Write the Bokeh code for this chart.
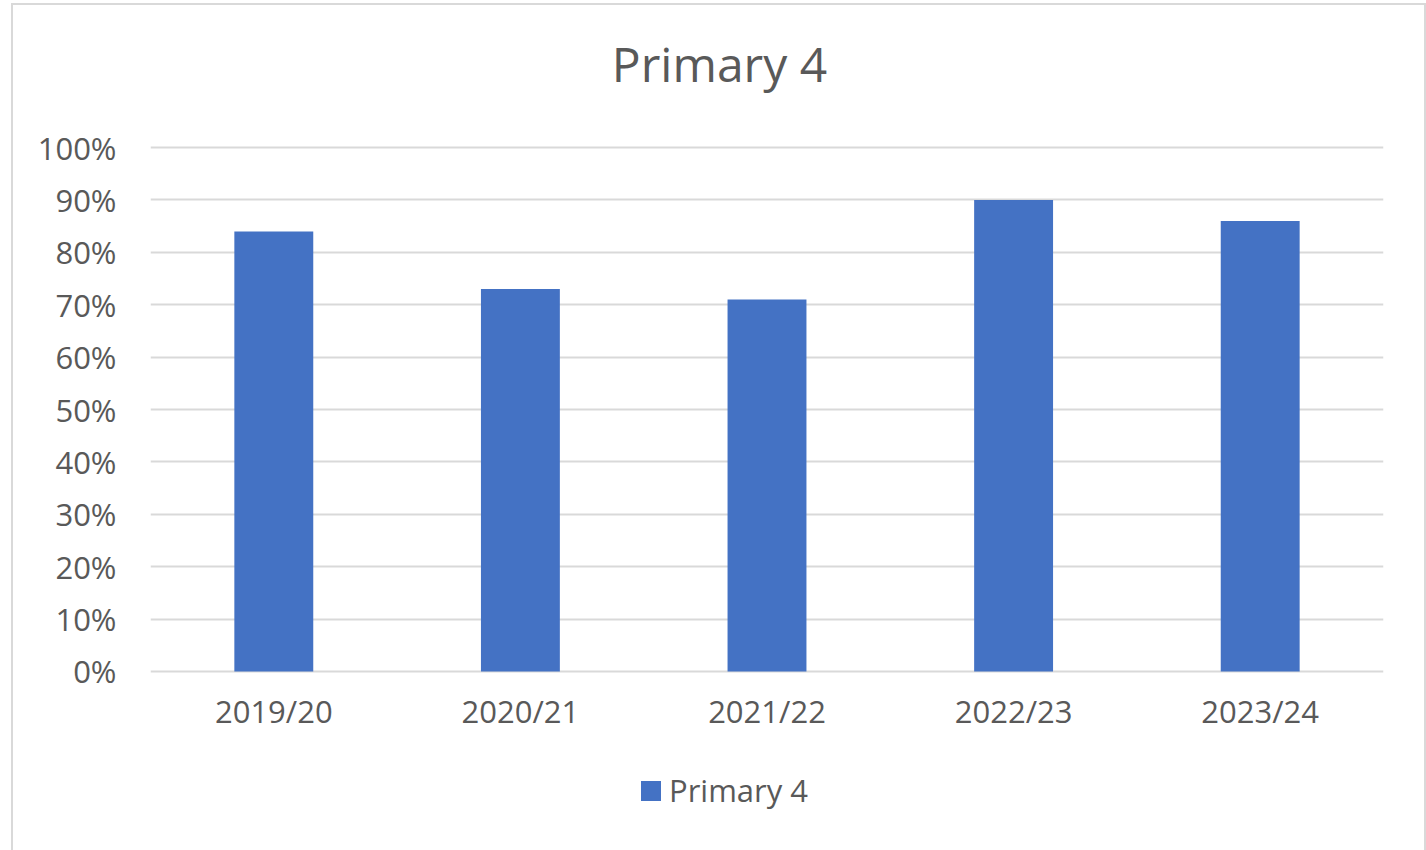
from bokeh.plotting import figure
from bokeh.layouts import column
from bokeh.models import (NumeralTickFormatter, Legend, LegendItem, FixedTicker, Range1d,
                          ColumnDataSource, Label)
from bokeh.embed import file_html
from bokeh.resources import INLINE

years = ["2019/20", "2020/21", "2021/22", "2022/23", "2023/24"]
values = [0.84, 0.73, 0.71, 0.90, 0.86]
y_ticks = [0, 0.1, 0.2, 0.3, 0.4, 0.5, 0.6, 0.7, 0.8, 0.9, 1.0]
series_name = "Primary 4"
chart_title = "Primary 4"

FONT = "Open Sans"
TXT = "#595959"
BAR = "#4472c4"
W = 1411

src = ColumnDataSource(dict(x=years, top=values))

# title strip
p0 = figure(width=W, height=110, x_range=Range1d(0, 1), y_range=Range1d(0, 1),
            x_axis_type=None, y_axis_type=None,
            output_backend="svg", toolbar_location=None, min_border=0, margin=0)
p0.outline_line_color = None
p0.grid.visible = False
p0.background_fill_color = "white"
p0.border_fill_color = "white"
p0.add_layout(Label(x=569, y=52, x_units="screen", y_units="screen", text=chart_title,
                    text_align="center", text_baseline="middle",
                    text_font=FONT, text_font_size="48px", text_color=TXT))

# main chart
p = figure(x_range=years, y_range=Range1d(-0.004, 1.004), width=W, height=640,
           output_backend="svg", toolbar_location=None,
           min_border_left=137, min_border_right=41, min_border_top=30, min_border_bottom=82,
           margin=0)
p.outline_line_color = None
p.background_fill_color = "white"
p.border_fill_color = "white"

r = p.vbar(x="x", top="top", width=0.32, source=src, fill_color=BAR, line_color=None)

p.yaxis.ticker = FixedTicker(ticks=y_ticks)
p.yaxis.formatter = NumeralTickFormatter(format="0%")
p.yaxis.axis_line_color = None
p.yaxis.major_tick_line_color = None
p.yaxis.minor_tick_line_color = None
p.yaxis.major_label_standoff = 28
p.yaxis.major_label_text_font = FONT
p.yaxis.major_label_text_font_size = "31px"
p.yaxis.major_label_text_color = TXT

p.xaxis.axis_line_color = None
p.xaxis.major_tick_line_color = None
p.xaxis.minor_tick_line_color = None
p.xaxis.major_label_standoff = 10
p.xaxis.major_label_text_font = FONT
p.xaxis.major_label_text_font_size = "31px"
p.xaxis.major_label_text_color = TXT

p.xgrid.grid_line_color = None
p.ygrid.grid_line_color = "#d9d9d9"
p.ygrid.grid_line_width = 2

# legend strip below the chart (bars here sit outside the visible y range)
p2 = figure(width=W, height=100, x_range=years, y_range=Range1d(2, 3),
            x_axis_type=None, y_axis_type=None,
            output_backend="svg", toolbar_location=None, min_border=0, margin=0)
p2.outline_line_color = None
p2.grid.visible = False
p2.background_fill_color = "white"
p2.border_fill_color = "white"
r2 = p2.vbar(x="x", top="top", width=0.32, source=src, fill_color=BAR, line_color=None)

legend = Legend(items=[LegendItem(label=series_name, renderers=[r2])],
                orientation="horizontal", location=(488, 44),
                border_line_color=None, background_fill_alpha=0,
                glyph_width=25, glyph_height=25, label_standoff=6,
                label_text_font=FONT, label_text_font_size="31px", label_text_color=TXT,
                margin=0, padding=0)
p2.add_layout(legend, "center")

layout = column(p0, p, p2, margin=(3, 0, 0, 11), spacing=0,
                styles={"border": "2px solid #d9d9d9", "background-color": "white"})

open("out.html", "w").write(file_html(layout, INLINE))
